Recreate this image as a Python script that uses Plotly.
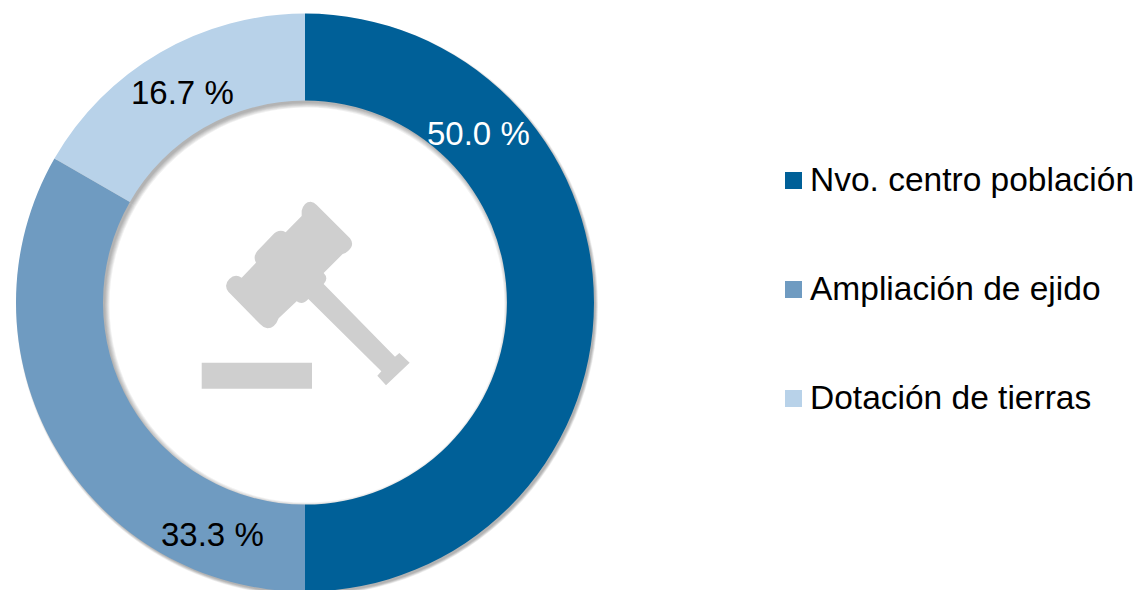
import plotly.graph_objects as go

categories = ["Nvo. centro población", "Ampliación de ejido", "Dotación de tierras"]
values = [50.0, 33.3, 16.7]
value_labels = ["50.0 %", "33.3 %", "16.7 %"]
colors = ["#006098", "#6F9BC1", "#B8D2E9"]
label_colors = ["#FFFFFF", "#000000", "#000000"]

W, H = 1140, 610
FONT = "Liberation Sans, Arial, sans-serif"
label_pos = [(479, 134), (212, 534), (182, 92)]
legend_y = [180.5, 289.5, 398.5]
CX, CY, R_OUT, R_IN = 305, 302.6, 289, 202


def X(p):
    return p / W


def Y(p):
    return 1 - p / H


def path(cmds):
    out = []
    for c in cmds:
        pts = c[1:]
        out.append(c[0] + " ".join(f"{X(180 + a / 3):.5f},{Y(180 + b / 3):.5f}" for a, b in pts))
    return " ".join(out) + " Z"


gavel = [
    ("M", (365, 92)),
    ("Q", (372, 65), (392, 65)),
    ("Q", (402, 66), (410, 75)),
    ("L", (510, 175)),
    ("Q", (525, 195), (505, 212)),
    ("Q", (497, 220), (488, 222)),
    ("L", (431, 279)),
    ("Q", (447, 295), (431, 312)),
    ("L", (645, 530)),
    ("L", (658, 519)),
    ("L", (689, 548)),
    ("L", (618, 616)),
    ("L", (592, 587)),
    ("L", (604, 574)),
    ("L", (385, 357)),
    ("Q", (368, 376), (350, 364)),
    ("L", (296, 415)),
    ("Q", (285, 445), (262, 445)),
    ("Q", (250, 443), (240, 432)),
    ("L", (145, 335)),
    ("Q", (130, 315), (148, 297)),
    ("Q", (165, 280), (185, 293)),
    ("L", (228, 248)),
    ("Q", (218, 230), (232, 213)),
    ("L", (278, 165)),
    ("Q", (297, 145), (317, 157)),
    ("L", (365, 108)),
]

fig = go.Figure()
# soft drop shadow: stacked translucent rings, offset down and to the right
for eo, ei in [(2.0, 4.5), (1.5, 3.6), (1.0, 2.7), (0.5, 1.8), (0.0, 0.9), (-0.5, 0.0)]:
    ro, ri = R_OUT + eo, R_IN - ei
    fig.add_trace(go.Pie(
        labels=categories, values=values, hole=ri / ro, sort=False, direction="clockwise", rotation=0,
        marker=dict(colors=["rgba(0,0,0,0.055)"] * 3, line=dict(width=0)),
        textinfo="none", hoverinfo="skip", showlegend=False,
        domain=dict(x=[X(CX + 2 - ro), X(CX + 2 + ro)], y=[Y(CY + 2.5 + ro), Y(CY + 2.5 - ro)]),
    ))
fig.add_trace(go.Pie(
    labels=categories, values=values, hole=R_IN / R_OUT, sort=False, direction="clockwise", rotation=0,
    marker=dict(colors=colors, line=dict(width=0)),
    textinfo="none", showlegend=False,
    domain=dict(x=[X(CX - R_OUT), X(CX + R_OUT)], y=[Y(CY + R_OUT), Y(CY - R_OUT)]),
))

shapes = [
    dict(type="path", xref="paper", yref="paper", path=path(gavel), fillcolor="#CFCFCF", line_width=0),
    dict(type="rect", xref="paper", yref="paper", x0=X(201.7), x1=X(312), y0=Y(388.7), y1=Y(362.7),
         fillcolor="#CFCFCF", line_width=0),
]
annotations = []
for txt, col, (px, py) in zip(value_labels, label_colors, label_pos):
    annotations.append(dict(text=txt, x=X(px), y=Y(py), xref="paper", yref="paper", showarrow=False,
                            xanchor="center", yanchor="middle", font=dict(family=FONT, size=33, color=col)))
for name, col, ly in zip(categories, colors, legend_y):
    shapes.append(dict(type="rect", xref="paper", yref="paper", x0=X(785), x1=X(802), y0=Y(ly + 8.5), y1=Y(ly - 8.5),
                       fillcolor=col, line_width=0))
    annotations.append(dict(text=name, x=X(808), y=Y(ly - 1.5), xref="paper", yref="paper", showarrow=False,
                            xanchor="left", yanchor="middle", font=dict(family=FONT, size=33.5, color="#000000")))

fig.update_layout(width=W, height=H, margin=dict(l=0, r=0, t=0, b=0), paper_bgcolor="#FFFFFF",
                  plot_bgcolor="#FFFFFF", shapes=shapes, annotations=annotations, showlegend=False)

fig.write_html("out.html", post_script="document.body.style.margin='0';document.body.style.overflow='hidden';",
               config=dict(displayModeBar=False))
